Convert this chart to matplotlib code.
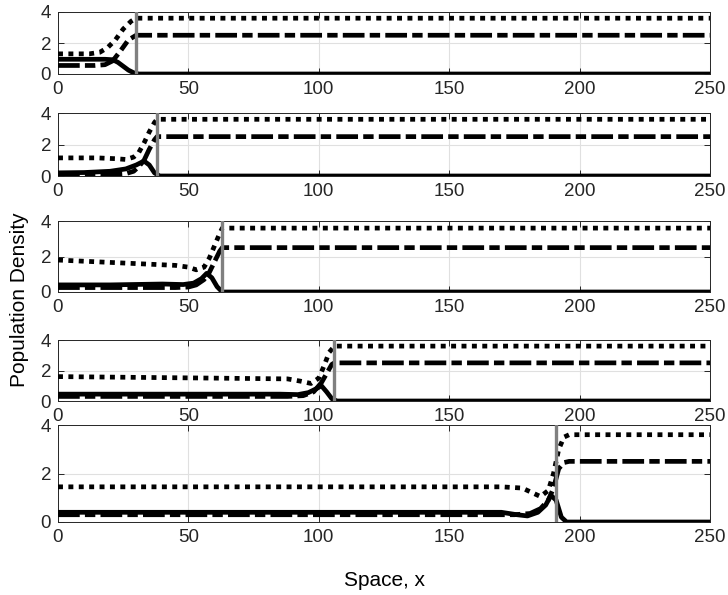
import numpy as np
import matplotlib
matplotlib.use("Agg")
import matplotlib.pyplot as plt

# ---------------- data ----------------
x_max = 250.0

# front position (gray vertical line) per panel
fronts = [30, 38, 63, 106, 191]

# solid line
solid_x = [
    [0, 18, 21, 23, 25, 27, 29, 31, 250],
    [0, 10, 20, 26, 30, 33, 35, 37, 39, 250],
    [0, 20, 40, 48, 52, 55, 57, 59, 61, 63, 250],
    [0, 50, 85, 92, 96, 99, 101, 103, 105, 107, 250],
    [0, 170, 176, 180, 184, 187, 189, 191, 193, 195, 250],
]
solid_y = [
    [0.95, 0.95, 0.92, 0.75, 0.5, 0.25, 0.08, 0.0, 0.0],
    [0.2, 0.22, 0.3, 0.45, 0.7, 0.95, 0.7, 0.2, 0.0, 0.0],
    [0.4, 0.4, 0.45, 0.42, 0.5, 0.75, 1.05, 0.8, 0.3, 0.0, 0.0],
    [0.45, 0.45, 0.45, 0.42, 0.55, 0.8, 1.0, 0.6, 0.15, 0.0, 0.0],
    [0.4, 0.4, 0.3, 0.25, 0.4, 0.7, 1.1, 0.9, 0.2, 0.0, 0.0],
]

# dotted line
dot_x = [
    [0, 12, 16, 19, 22, 25, 28, 30, 250],
    [0, 15, 22, 26, 29, 31, 33, 35, 37, 38, 250],
    [0, 15, 30, 45, 50, 53, 56, 58, 60, 62, 63, 250],
    [0, 30, 60, 88, 93, 97, 100, 102, 104, 106, 250],
    [0, 170, 178, 182, 185, 188, 190, 192, 194, 196, 250],
]
dot_y = [
    [1.3, 1.3, 1.4, 1.7, 2.2, 2.9, 3.4, 3.6, 3.6],
    [1.15, 1.15, 1.1, 1.05, 1.2, 1.5, 2.1, 2.8, 3.4, 3.6, 3.6],
    [1.8, 1.7, 1.6, 1.5, 1.4, 1.25, 1.4, 1.9, 2.6, 3.3, 3.6, 3.6],
    [1.6, 1.55, 1.5, 1.45, 1.3, 1.15, 1.5, 2.3, 3.2, 3.6, 3.6],
    [1.45, 1.45, 1.4, 1.2, 1.05, 1.3, 2.0, 3.0, 3.5, 3.6, 3.6],
]

# dash-dot line
dd_x = [
    [0, 14, 18, 21, 24, 27, 30, 31, 250],
    [0, 20, 26, 29, 31, 33, 35, 37, 38, 250],
    [0, 45, 50, 53, 56, 58, 60, 62, 63, 250],
    [0, 88, 94, 98, 101, 103, 105, 106, 250],
    [0, 175, 181, 185, 188, 190, 192, 194, 196, 250],
]
dd_y = [
    [0.55, 0.55, 0.6, 0.85, 1.5, 2.2, 2.5, 2.5, 2.5],
    [0.08, 0.1, 0.15, 0.3, 0.6, 1.0, 1.7, 2.3, 2.5, 2.5],
    [0.25, 0.25, 0.28, 0.4, 0.7, 1.1, 1.7, 2.3, 2.5, 2.5],
    [0.3, 0.3, 0.35, 0.6, 1.2, 1.8, 2.4, 2.5, 2.5],
    [0.3, 0.3, 0.35, 0.55, 0.9, 1.4, 2.2, 2.45, 2.5, 2.5],
]

xticks = [0, 50, 100, 150, 200, 250]
yticks = [0, 2, 4]

#--------------------------------------------------
if __name__ == "__main__":

    plt.rc('font', family=['Liberation Sans', 'DejaVu Sans'])
    plt.rc('xtick', labelsize=13.5, direction='in', top=True)
    plt.rc('ytick', labelsize=13.5, direction='in', right=True)

    W, H = 728, 595
    fig = plt.figure(1, figsize=(W/100.0, H/100.0), dpi=100)

    # axes boxes in pixels: (top, bottom)
    boxes = [(12, 74), (113, 176), (221, 292), (340, 401), (425, 522)]
    axleft, axright = 58, 710

    axcol = (0.15, 0.15, 0.15)
    lw = 3.4

    axs = []
    for i, (top, bot) in enumerate(boxes):
        ax = fig.add_axes([axleft/W, 1 - bot/H, (axright - axleft)/W, (bot - top)/H])
        axs.append(ax)

        ax.plot(solid_x[i], solid_y[i], color='k', lw=lw, solid_capstyle='butt',
                solid_joinstyle='round', zorder=3)
        ax.plot(dot_x[i], dot_y[i], color='k', lw=lw, dashes=(1.05, 1.15),
                dash_capstyle='butt', zorder=3)
        ax.plot(dd_x[i], dd_y[i], color='k', lw=lw, dashes=(4.6, 1.1, 2.2, 1.1),
                dash_capstyle='butt', zorder=3)
        ax.axvline(fronts[i], color=(0.5, 0.5, 0.5), lw=2.4, zorder=4)

        ax.set_xlim(0, x_max)
        ax.set_ylim(0, 4)
        ax.set_xticks(xticks)
        ax.set_yticks(yticks)
        ax.grid(True, color=(0.88, 0.88, 0.88), lw=0.8)
        ax.set_axisbelow(True)
        for s in ax.spines.values():
            s.set_color(axcol)
            s.set_linewidth(0.7)
        ax.tick_params(colors=axcol, labelcolor=(0.15, 0.15, 0.15), length=4,
                       width=0.7, pad=5)

    axs[-1].set_xlabel("Space, x", fontsize=15, labelpad=18)
    fig.text(20/W, 1 - 300/H, "Population Density", rotation=90,
             ha='center', va='center', fontsize=15)

    fig.savefig('out.png', dpi=100)
